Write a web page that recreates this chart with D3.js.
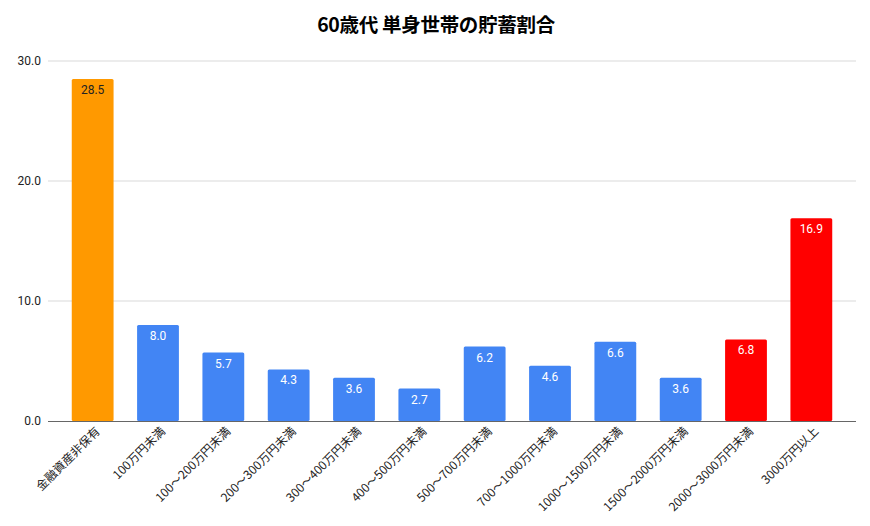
<!DOCTYPE html>
<html>
<head>
    <meta charset="utf-8">
    <style>
        body{
            margin: 0;
            background: #fff;
            font-family: "Noto Sans CJK JP", "Noto Sans", sans-serif;
        }
    </style>
</head>
<body>
    <svg width="870" height="526"></svg>

<script src="https://d3js.org/d3.v7.min.js"></script>
<script>
    let categories = ["金融資産非保有", "100万円未満", "100～200万円未満", "200～300万円未満",
        "300～400万円未満", "400～500万円未満", "500～700万円未満", "700～1000万円未満",
        "1000～1500万円未満", "1500～2000万円未満", "2000～3000万円未満", "3000万円以上"]
    let values = [28.5, 8.0, 5.7, 4.3, 3.6, 2.7, 6.2, 4.6, 6.6, 3.6, 6.8, 16.9]
    let barColors = ["#ff9900", "#4285f4", "#4285f4", "#4285f4", "#4285f4", "#4285f4",
        "#4285f4", "#4285f4", "#4285f4", "#4285f4", "#ff0000", "#ff0000"]
    let yTicks = [0, 10, 20, 30]

    let svg = d3.select("svg")

    let x = d3.scaleBand()
        .domain(categories)
        .range([60, 844])
        .paddingInner(0.36)
        .paddingOuter(0.18)

    let y = d3.scaleLinear()
        .domain([0, 30])
        .range([421, 61])

    // title
    svg.append("text")
        .attr("x", 436)
        .attr("y", 32)
        .attr("text-anchor", "middle")
        .style("font-size", "19.5px")
        .style("font-weight", "bold")
        .style("letter-spacing", "-0.3px")
        .style("fill", "#000")
        .text("60歳代 単身世帯の貯蓄割合")

    // gridlines + y labels
    let grid = svg.append("g")
    grid.selectAll("line")
        .data(yTicks.filter(d => d > 0))
        .join("line")
        .attr("x1", 48)
        .attr("x2", 856)
        .attr("y1", d => y(d))
        .attr("y2", d => y(d))
        .style("stroke", "#d9d9d9")
        .style("stroke-width", 1)

    grid.selectAll("text")
        .data(yTicks)
        .join("text")
        .attr("x", 41)
        .attr("y", d => y(d) + 4)
        .attr("text-anchor", "end")
        .style("font-size", "12px")
        .style("fill", "#222")
        .style("font-family", "Roboto, sans-serif")
        .text(d => d3.format(".1f")(d))

    // bars
    svg.append("g")
        .selectAll("rect")
        .data(values)
        .join("rect")
        .attr("x", (d, i) => x(categories[i]))
        .attr("y", d => y(d))
        .attr("width", x.bandwidth())
        .attr("height", d => y(0) - y(d))
        .attr("rx", 1.5)
        .style("fill", (d, i) => barColors[i])

    // value labels
    svg.append("g")
        .selectAll("text")
        .data(values)
        .join("text")
        .attr("x", (d, i) => x(categories[i]) + x.bandwidth() / 2)
        .attr("y", d => y(d) + 15)
        .attr("text-anchor", "middle")
        .style("font-size", "12px")
        .style("font-family", "Roboto, sans-serif")
        .style("fill", (d, i) => i == 0 ? "#222" : "#fff")
        .text(d => d3.format(".1f")(d))

    // baseline
    svg.append("line")
        .attr("x1", 48)
        .attr("x2", 856)
        .attr("y1", y(0) + 0.5)
        .attr("y2", y(0) + 0.5)
        .style("stroke", "#666")
        .style("stroke-width", 1.2)

    // x labels
    svg.append("g")
        .selectAll("text")
        .data(categories)
        .join("text")
        .attr("transform", d => {
            let cx = x(d) + x.bandwidth() / 2 + 8
            return "translate(" + cx + "," + 432 + ") rotate(-45)"
        })
        .attr("text-anchor", "end")
        .style("font-size", "12px")
        .style("fill", "#222")
        .text(d => d)
</script>
</body>
</html>
